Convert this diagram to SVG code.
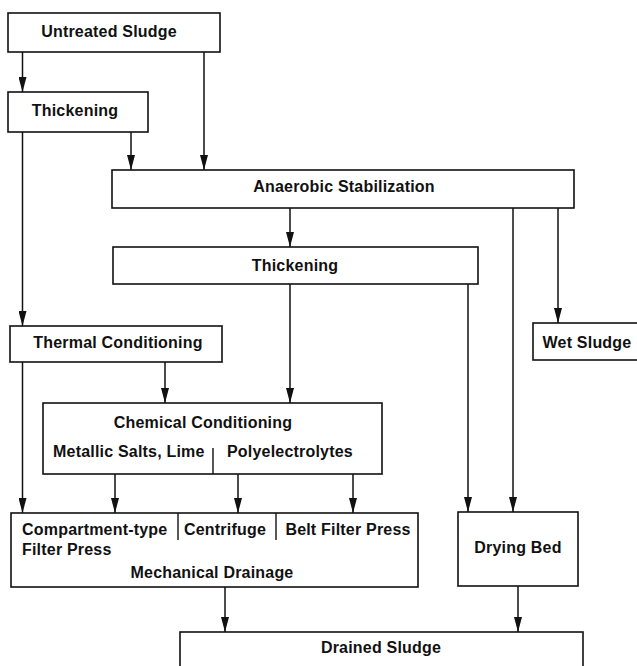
<svg xmlns="http://www.w3.org/2000/svg" width="637" height="666" viewBox="0 0 637 666">
  <style>
    .box { fill: #fff; stroke: #111; stroke-width: 1.6; }
    .div { stroke: #111; stroke-width: 1.4; fill: none; }
    .lbl { font-family: "Liberation Sans", Arial, Helvetica, sans-serif; font-weight: bold; font-size: 16px; letter-spacing: 0.2px; fill: #111; }
    .mid { text-anchor: middle; }
    .flow { stroke: #111; stroke-width: 1.5; fill: none; marker-end: url(#arrow); }
  </style>
  <defs>
    <marker id="arrow" viewBox="0 0 15 8" refX="15" refY="4" markerWidth="15" markerHeight="8" markerUnits="userSpaceOnUse" orient="auto">
      <path d="M0,0 L15,4 L0,8 Z" fill="#111"/>
    </marker>
  </defs>
  <rect width="637" height="666" fill="#fff"/>

  <g id="connectors">
    <line class="flow" x1="22.5" y1="52" x2="22.5" y2="92"/>
    <line class="flow" x1="204" y1="52" x2="204" y2="170"/>
    <line class="flow" x1="131" y1="132" x2="131" y2="170"/>
    <line class="flow" x1="22.5" y1="132" x2="22.5" y2="326"/>
    <line class="flow" x1="290" y1="208" x2="290" y2="247"/>
    <line class="flow" x1="513" y1="208" x2="513" y2="512"/>
    <line class="flow" x1="558" y1="208" x2="558" y2="323"/>
    <line class="flow" x1="468" y1="284" x2="468" y2="512"/>
    <line class="flow" x1="290" y1="284" x2="290" y2="403"/>
    <line class="flow" x1="165" y1="362" x2="165" y2="403"/>
    <line class="flow" x1="22.5" y1="362" x2="22.5" y2="513"/>
    <line class="flow" x1="115" y1="474" x2="115" y2="513"/>
    <line class="flow" x1="238" y1="474" x2="238" y2="513"/>
    <line class="flow" x1="353" y1="474" x2="353" y2="513"/>
    <line class="flow" x1="225" y1="587" x2="225" y2="632"/>
    <line class="flow" x1="518" y1="586" x2="518" y2="632"/>
  </g>

  <g id="untreated-sludge">
    <rect class="box" x="8" y="13" width="212" height="39"/>
    <text class="lbl mid" x="109" y="37">Untreated Sludge</text>
  </g>

  <g id="thickening-1">
    <rect class="box" x="8" y="92" width="140" height="40"/>
    <text class="lbl mid" x="75" y="116">Thickening</text>
  </g>

  <g id="anaerobic-stabilization">
    <rect class="box" x="112" y="170" width="462" height="38"/>
    <text class="lbl mid" x="344" y="192">Anaerobic Stabilization</text>
  </g>

  <g id="thickening-2">
    <rect class="box" x="113" y="247" width="365" height="37"/>
    <text class="lbl mid" x="295" y="271">Thickening</text>
  </g>

  <g id="wet-sludge">
    <rect class="box" x="533" y="323" width="112" height="37"/>
    <text class="lbl mid" x="587" y="348">Wet Sludge</text>
  </g>

  <g id="thermal-conditioning">
    <rect class="box" x="10" y="326" width="212" height="36"/>
    <text class="lbl mid" x="118" y="348">Thermal Conditioning</text>
  </g>

  <g id="chemical-conditioning">
    <rect class="box" x="43" y="403" width="339" height="71"/>
    <line class="div" x1="213" y1="448" x2="213" y2="474"/>
    <text class="lbl mid" x="203" y="428">Chemical Conditioning</text>
    <text class="lbl" x="53" y="457">Metallic Salts, Lime</text>
    <text class="lbl" x="227" y="457">Polyelectrolytes</text>
  </g>

  <g id="mechanical-drainage">
    <rect class="box" x="11" y="513" width="407" height="74"/>
    <line class="div" x1="178" y1="513" x2="178" y2="540"/>
    <line class="div" x1="276" y1="513" x2="276" y2="540"/>
    <text class="lbl" x="22" y="535">Compartment-type</text>
    <text class="lbl" x="22" y="555">Filter Press</text>
    <text class="lbl mid" x="225" y="535">Centrifuge</text>
    <text class="lbl mid" x="348" y="535">Belt Filter Press</text>
    <text class="lbl mid" x="212" y="578">Mechanical Drainage</text>
  </g>

  <g id="drying-bed">
    <rect class="box" x="458" y="512" width="120" height="74"/>
    <text class="lbl mid" x="518" y="553">Drying Bed</text>
  </g>

  <g id="drained-sludge">
    <rect class="box" x="180" y="632" width="403" height="44"/>
    <text class="lbl mid" x="381" y="653">Drained Sludge</text>
  </g>
</svg>
